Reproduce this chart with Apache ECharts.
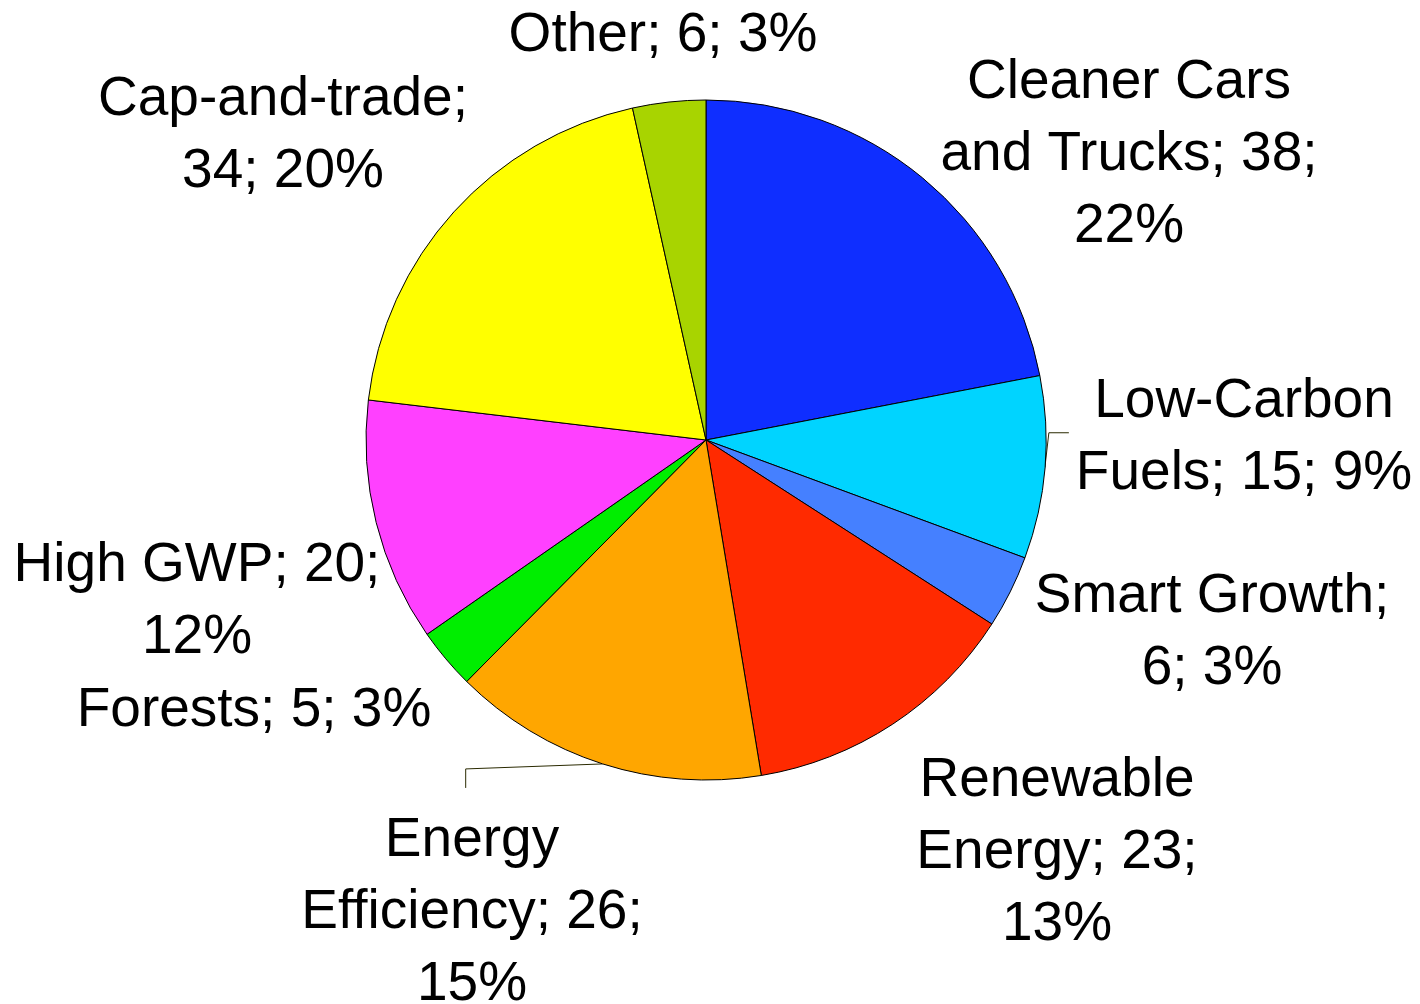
<!DOCTYPE html>
<html>
<head>
<meta charset="utf-8">
<title>Pie</title>
<script src="https://cdn.jsdelivr.net/npm/echarts@6/dist/echarts.min.js"></script>
<style>
  html, body { margin: 0; padding: 0; background: #fff; }
  #chart { width: 1420px; height: 1004px; }
</style>
</head>
<body>
<div id="chart"></div>
<script>
// slices, clockwise from 12 o'clock
var names = ['Cleaner Cars\nand Trucks', 'Low-Carbon\nFuels', 'Smart Growth', 'Renewable\nEnergy',
  'Energy\nEfficiency', 'Forests', 'High GWP', 'Cap-and-trade', 'Other']
var values = [38, 15, 6, 23, 26, 5, 20, 34, 6]
var colors = ['#0f2eff', '#00d4ff', '#4580ff', '#ff2a00', '#ffa600', '#00ee00', '#ff40ff', '#ffff00', '#a8d400']
// separator after the name and after the value (' ' = same line, '\n' = wrap)
var sepAfterName = [' ', ' ', '\n', ' ', ' ', ' ', ' ', '\n', ' ']
var sepAfterValue = ['\n', ' ', ' ', '\n', '\n', ' ', '\n', ' ', ' ']

// label centres (layout only)
var labelPos = [[1129, 155], [1244, 438], [1212, 633], [1057, 853], [472, 913],
  [254, 711], [197, 602], [283, 136], [663, 36]]
var hasLine = [false, true, false, false, true, false, false, false, false]

var chart = echarts.init(document.getElementById('chart'))

var data = names.map(function(n, i) {
  return {
    name: n,
    value: values[i],
    itemStyle: { color: colors[i] },
    labelLine: { show: hasLine[i] }
  }
})

chart.setOption({
  animation: false,
  series: [{
    type: 'pie',
    center: [706, 440],
    radius: 340,
    startAngle: 90,
    clockwise: true,
    avoidLabelOverlap: false,
    itemStyle: {
      borderColor: '#000',
      borderWidth: 1
    },
    emphasis: { disabled: true },
    label: {
      show: true,
      position: 'outside',
      color: '#000',
      fontFamily: 'Liberation Sans, Arial, sans-serif',
      fontSize: 55,
      lineHeight: 72,
      align: 'center',
      formatter: function(p) {
        var i = p.dataIndex
        return p.name + ';' + sepAfterName[i] + p.value + ';' + sepAfterValue[i] + Math.round(p.percent) + '%'
      }
    },
    labelLine: {
      length: 10,
      length2: 10,
      lineStyle: { color: '#2a2a00', width: 1 }
    },
    labelLayout: function(params) {
      var i = params.dataIndex
      var out = {
        x: labelPos[i][0],
        y: labelPos[i][1],
        align: 'center',
        verticalAlign: 'middle'
      }
      if (hasLine[i] && params.labelLinePoints) {
        var p0 = params.labelLinePoints[0]
        if (i === 1) {
          out.labelLinePoints = [p0, [p0[0] + 4, p0[1] - 35], [p0[0] + 24, p0[1] - 35]]
        } else {
          out.labelLinePoints = [p0, [p0[0] - 137, p0[1] + 5], [p0[0] - 137, p0[1] + 24]]
        }
      }
      return out
    },
    data: data
  }]
})
</script>
</body>
</html>
